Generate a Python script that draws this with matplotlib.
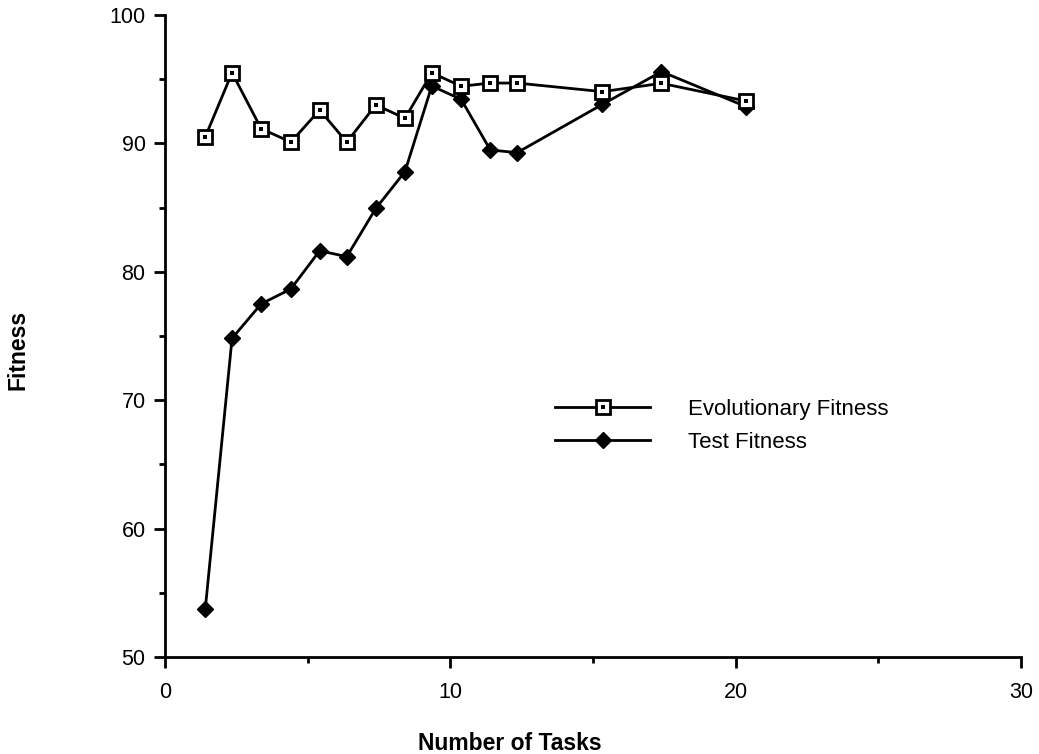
import matplotlib
matplotlib.use("Agg")
import matplotlib.pyplot as plt
from matplotlib.ticker import MultipleLocator
from matplotlib.legend_handler import HandlerTuple

plt.rcParams['font.family'] = ['Liberation Sans', 'DejaVu Sans']

# Data
evo_x = [1.41, 2.35, 3.37, 4.41, 5.42, 6.37, 7.39, 8.41, 9.35, 10.38, 11.40, 12.34, 15.33, 17.40, 20.37]
evo_y = [90.5, 95.5, 91.15, 90.1, 92.6, 90.1, 93.0, 91.95, 95.5, 94.45, 94.7, 94.7, 94.03, 94.68, 93.3]

test_x = [1.41, 2.35, 3.37, 4.41, 5.42, 6.37, 7.39, 8.41, 9.35, 10.38, 11.40, 12.34, 15.33, 17.40, 20.37]
test_y = [53.71, 74.82, 77.5, 78.66, 81.64, 81.18, 84.94, 87.8, 94.47, 93.43, 89.49, 89.28, 93.04, 95.59, 92.86]

x_label = "Number of Tasks"
y_label = "Fitness"
legend_labels = ["Evolutionary Fitness", "Test Fitness"]

W, H = 1039, 754
fig = plt.figure(figsize=(W / 100, H / 100), dpi=100)
ax = fig.add_axes([165 / W, (H - 657) / H, (1021 - 165) / W, (657 - 15) / H])

lw = 2.0
# Test fitness: filled diamonds
l_test, = ax.plot(test_x, test_y, color='black', lw=lw, marker='D', ms=8,
                  mfc='black', mec='black', zorder=3)
# Evolutionary fitness: open squares with a small center dot
l_evo, = ax.plot(evo_x, evo_y, color='black', lw=lw, marker='s', ms=9.5,
                 mfc='white', mec='black', mew=2.0, zorder=4)
l_dot, = ax.plot(evo_x, evo_y, ls='none', marker='s', ms=2.4,
                 mfc='black', mec='black', mew=0, zorder=5)

ax.set_xlim(0, 30)
ax.set_ylim(50, 100)
ax.xaxis.set_major_locator(MultipleLocator(10))
ax.xaxis.set_minor_locator(MultipleLocator(5))
ax.yaxis.set_major_locator(MultipleLocator(10))
ax.yaxis.set_minor_locator(MultipleLocator(5))

for s in ['top', 'right']:
    ax.spines[s].set_visible(False)
for s in ['left', 'bottom']:
    ax.spines[s].set_linewidth(2.0)

ax.tick_params(axis='both', which='major', direction='out', length=8, width=2.0,
               labelsize=15.5)
ax.tick_params(axis='y', which='major', pad=6)
ax.tick_params(axis='x', which='major', pad=10)
ax.tick_params(axis='both', which='minor', direction='out', length=4.5, width=2.0)

fig.text(510 / W, 1 - 743 / H, x_label, fontsize=16.5, fontweight='bold',
         ha='center', va='center')
fig.text(18 / W, 1 - 350 / H, y_label, fontsize=16.5, fontweight='bold',
         ha='center', va='center', rotation=90)

leg = ax.legend([(l_evo, l_dot), l_test], legend_labels,
                handler_map={tuple: HandlerTuple(ndivide=1)},
                loc='upper left',
                bbox_to_anchor=((546 - 165) / (1021 - 165), (657 - 390) / (657 - 15)),
                frameon=False, fontsize=16, handlelength=4.3, handletextpad=1.7,
                labelspacing=0.55, borderaxespad=0)

fig.savefig("out.png", dpi=100)
